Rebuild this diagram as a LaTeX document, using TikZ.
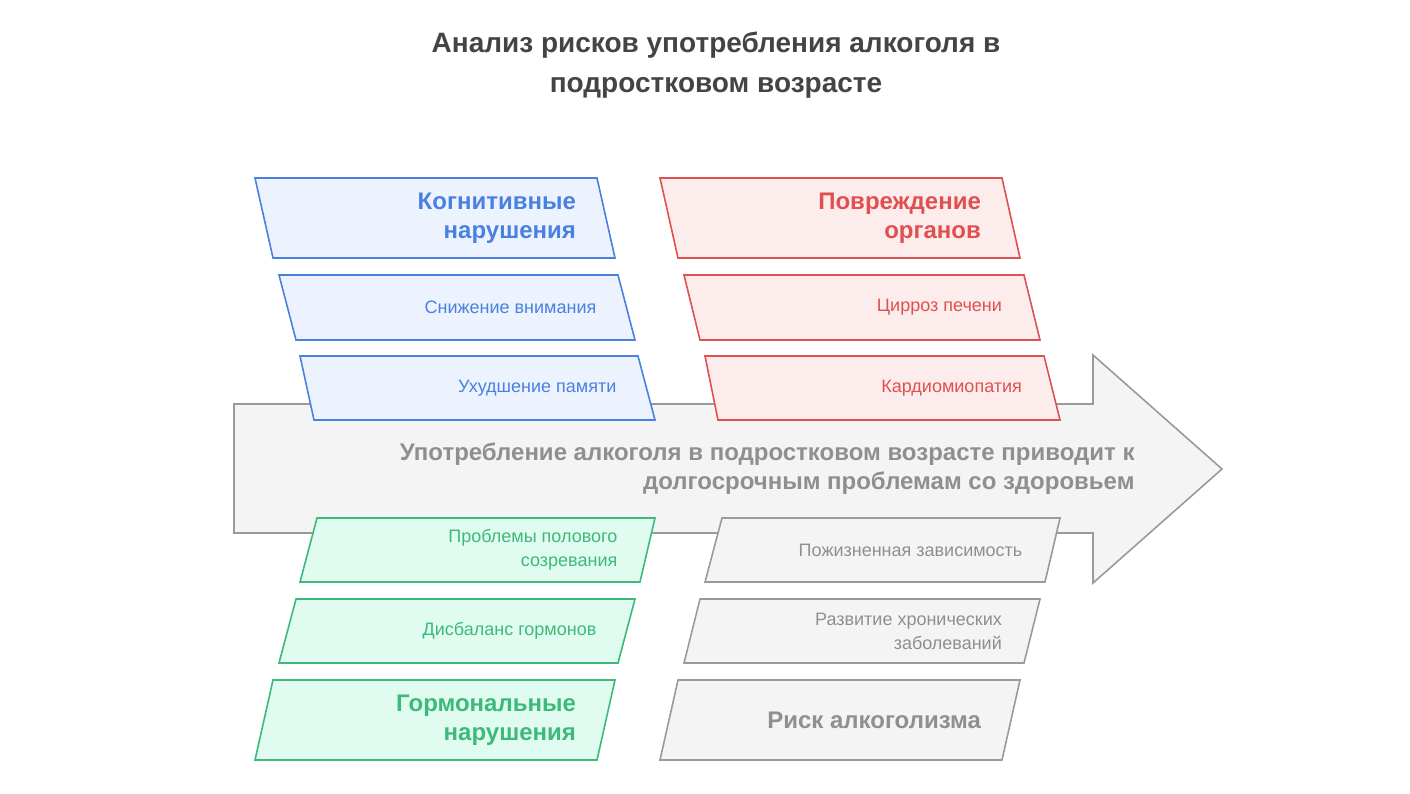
\documentclass[tikz,border=0pt]{standalone}
\usepackage{fontspec}
\setmainfont{Liberation Sans}
\usetikzlibrary{positioning}
\definecolor{bluel}{HTML}{4A80E0}\definecolor{bluef}{HTML}{EDF3FE}
\definecolor{redl}{HTML}{E05050}\definecolor{redf}{HTML}{FDECEC}
\definecolor{greenl}{HTML}{3DBA7A}\definecolor{greenf}{HTML}{E0FBEF}
\definecolor{grayl}{HTML}{9A9A9A}\definecolor{grayf}{HTML}{F4F4F4}
\definecolor{titlec}{HTML}{444444}\definecolor{arrowt}{HTML}{8F8F8F}
\begin{document}
\begin{tikzpicture}[x=1pt,y=-1pt]
\tikzset{hdr/.style={font=\fontsize{24}{29}\selectfont\bfseries, align=right, anchor=east},
  itm/.style={font=\fontsize{18}{24}\selectfont, align=right, anchor=east},
  blue/.style={draw=bluel, fill=bluef, line width=1.6pt, text=bluel},
  red/.style={draw=redl, fill=redf, line width=1.6pt, text=redl},
  green/.style={draw=greenl, fill=greenf, line width=1.6pt, text=greenl},
  grey/.style={draw=grayl, fill=grayf, line width=1.6pt, text=arrowt}}
% #1 style, #2 name, #3 tl, #4 tr, #5 bl, #6 br, #7 ytop, #8 ybot, #9 text
\newcommand\plg[9]{%
  \draw[#1] (#3,#7) -- (#4,#7) -- (#6,#8) -- (#5,#8) -- cycle;
  \node[#1, draw=none, fill=none] (#2) at ({(#4+#6)/2-26},{(#7+#8)/2}) {#9};}
\useasboundingbox (0,0) rectangle (1410,793);
\node[font=\fontsize{28}{40}\selectfont\bfseries, text=titlec, align=center] (title) at (716,65)
  {Анализ рисков употребления алкоголя в\\подростковом возрасте};
%% main arrow
\draw[draw=grayl, fill=grayf, line width=1.6pt] (234,404) -- (1093,404) -- (1093,355) -- (1222,469)
  -- (1093,583) -- (1093,533) -- (234,533) -- cycle;
\node[hdr, text=arrowt] (mainlab) at (1138,469)
  {Употребление алкоголя в подростковом возрасте приводит к\\долгосрочным проблемам со здоровьем};
%% upper left
\plg{blue,hdr}{cogn}{255}{597}{273}{615}{178}{258}{Когнитивные\\нарушения}
\plg{blue,itm}{attn}{279}{618}{296}{635}{275}{340}{Снижение внимания}
\plg{blue,itm}{memo}{300}{638}{314}{655}{356}{420}{Ухудшение памяти}
%% upper right
\plg{red,hdr}{organ}{660}{1002}{678}{1020}{178}{258}{Повреждение\\органов}
\plg{red,itm}{liver}{684}{1024}{700}{1040}{275}{340}{Цирроз печени}
\plg{red,itm}{cardio}{705}{1044}{718}{1060}{356}{420}{Кардиомиопатия}
%% lower left
\plg{green,itm}{puberty}{317}{655}{300}{640}{518}{582}{Проблемы полового\\созревания}
\plg{green,itm}{hormbal}{296}{635}{279}{618}{599}{663}{Дисбаланс гормонов}
\plg{green,hdr}{hormon}{273}{615}{255}{597}{680}{760}{Гормональные\\нарушения}
%% lower right
\plg{grey,itm}{depend}{722}{1060}{705}{1045}{518}{582}{Пожизненная зависимость}
\plg{grey,itm}{chronic}{700}{1040}{684}{1024}{599}{663}{Развитие хронических\\заболеваний}
\plg{grey,hdr}{alcrisk}{678}{1020}{660}{1002}{680}{760}{Риск алкоголизма}
\end{tikzpicture}
\end{document}
